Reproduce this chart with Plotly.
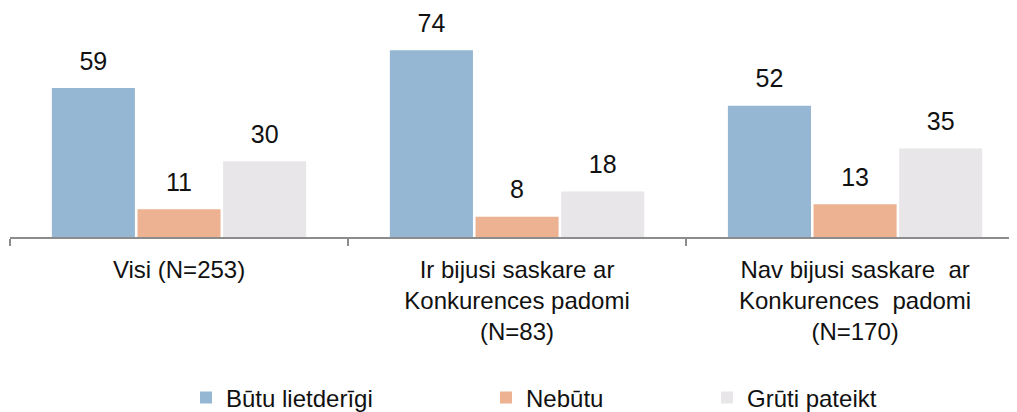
import plotly.graph_objects as go

# grupas un atbilžu sadalījums (%)
grupas = [
    "Visi (N=253)",
    "Ir bijusi saskare ar<br>Konkurences padomi<br>(N=83)",
    "Nav bijusi saskare  ar<br>Konkurences  padomi<br>(N=170)",
]
atbildes = ["Būtu lietderīgi", "Nebūtu", "Grūti pateikt"]
butu_lietderigi = [59, 74, 52]
nebutu = [11, 8, 13]
gruti_pateikt = [30, 18, 35]

krasas = ["#95B7D3", "#EDB291", "#E8E6E8"]
FONTS = "Liberation Sans, Arial, sans-serif"
# lapas body atkāpe ir 8 px, tāpēc attēls ir par 8 px mazāks
W, H = 1009, 404

fig = go.Figure()
for i, (nosaukums, vertibas) in enumerate(zip(atbildes, [butu_lietderigi, nebutu, gruti_pateikt])):
    leg = "legend" if i == 0 else f"legend{i + 1}"
    fig.add_trace(go.Bar(
        x=grupas, y=vertibas, name=nosaukums, marker_color=krasas[i],
        marker_line_width=0, offsetgroup=str(i), legend=leg,
    ))
    # skaitļi virs stabiņiem
    fig.add_trace(go.Scatter(
        x=grupas, y=vertibas, mode="markers+text", text=[str(v) for v in vertibas],
        textposition="top center", textfont=dict(size=25, color="#111111", family=FONTS),
        marker=dict(size=18, opacity=0), offsetgroup=str(i), showlegend=False,
        cliponaxis=False, hoverinfo="skip",
    ))

# leģendas tekstu sākums (px, logā)
leg_x = [225, 525, 746]
leg_kw = dict(orientation="h", xref="container", yref="container",
              yanchor="middle", y=(H - 390) / H, xanchor="left",
              font=dict(size=24, color="#111111", family=FONTS),
              bgcolor="rgba(0,0,0,0)", itemwidth=30)
fig.update_layout(
    width=W, height=H,
    margin=dict(l=2, r=0, t=2, b=175),
    paper_bgcolor="white", plot_bgcolor="white",
    barmode="group", bargap=0.24, bargroupgap=0.03,
    scattermode="group", scattergap=0.24,
    font=dict(family=FONTS, size=24, color="#111111"),
    xaxis=dict(
        range=[-0.5, 2.479], showline=True, linecolor="#8c8c8c", linewidth=1.5,
        ticks="outside", tickson="boundaries", ticklen=7, tickcolor="#8c8c8c",
        tickwidth=1.5, showgrid=False, ticklabelstandoff=10, automargin=False,
        tickfont=dict(size=24, color="#111111", family=FONTS),
    ),
    yaxis=dict(range=[0, 89.9], visible=False, showgrid=False, automargin=False),
    legend=dict(x=(leg_x[0] - 47) / W, **leg_kw),
    legend2=dict(x=(leg_x[1] - 47) / W, **leg_kw),
    legend3=dict(x=(leg_x[2] - 47) / W, **leg_kw),
)

fig.write_html("out.html")
